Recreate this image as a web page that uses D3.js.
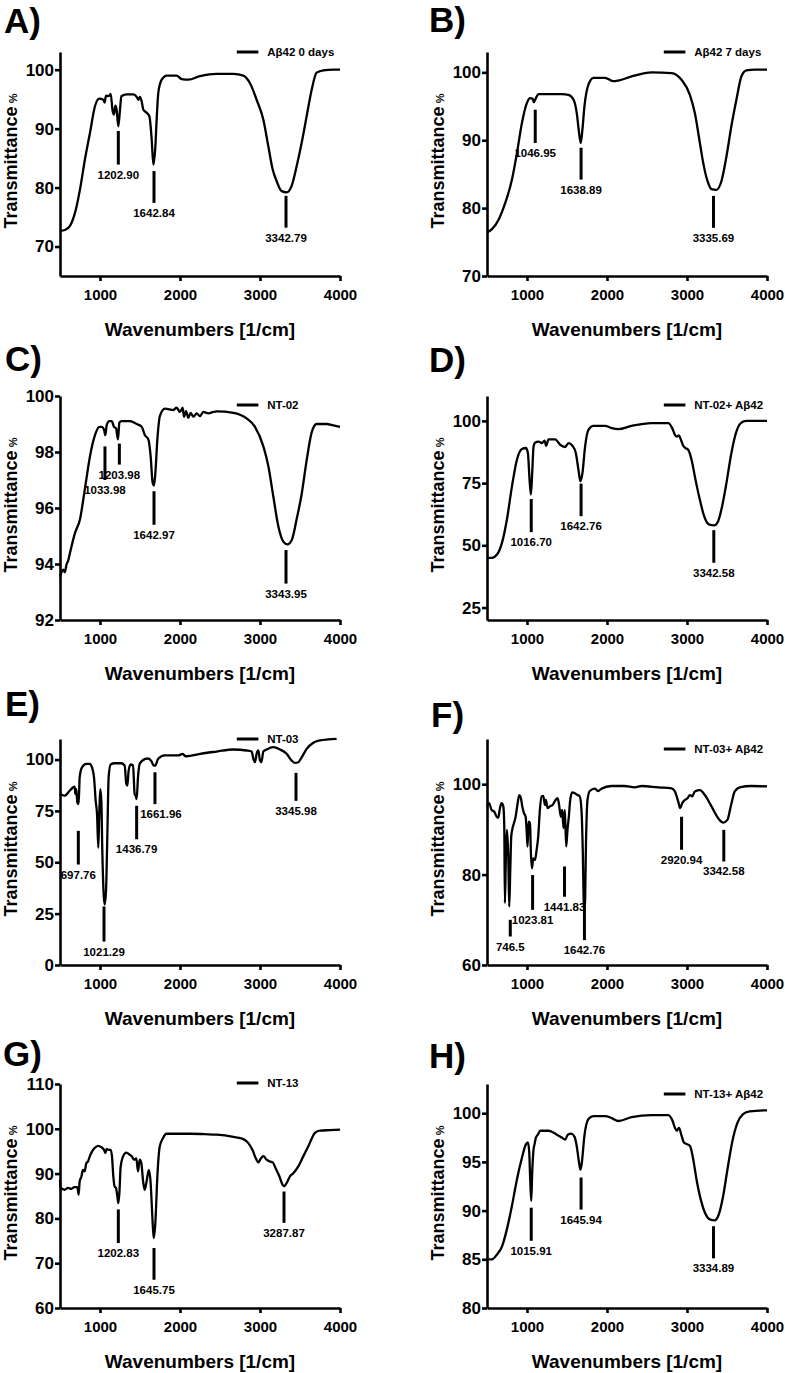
<!DOCTYPE html>
<html><head><meta charset="utf-8">
<script src="https://cdn.jsdelivr.net/npm/d3@7"></script>
<style>
body{margin:0;background:#fff}
svg{display:block}
text{font-family:"Liberation Sans",Arial,Helvetica,sans-serif;font-weight:bold;fill:#000}
</style>
</head><body>
<svg id="c" width="785" height="1373"></svg>
<script>
// ---------------- DATA ----------------
const panelLetters = ["A)","B)","C)","D)","E)","F)","G)","H)"];
const legendLabels = ["Aβ42 0 days","Aβ42 7 days","NT-02","NT-02+ Aβ42","NT-03","NT-03+ Aβ42","NT-13","NT-13+ Aβ42"];
const xDomain = [500, 4000];
const xTicks = [1000, 2000, 3000, 4000];
const yDomains = [[65,103],[70,103],[92,100],[20,110],[0,110],[60,110],[60,110],[80,103]];
const yTicks = [[70,80,90,100],[70,80,90,100],[92,94,96,98,100],[25,50,75,100],[0,25,50,75,100],[60,80,100],[60,70,80,90,100,110],[80,85,90,95,100]];
const xLabel = "Wavenumbers [1/cm]";
const yLabel = "Transmittance";

// spectra: [wavenumber, transmittance %]
const specA = [[500,72.65],[562,72.8],[625,73.5],[687,75.7],[750,79.7],[812,84.8],[875,89.3],[937,93.8],[992,95.1],[1042,94.9],[1058,94.4],[1075,95.6],[1108,95.5],[1133,95.9],[1158,93.0],[1175,92.4],[1192,93.9],[1208,93.2],[1229,90.4],[1250,93.2],[1267,95.5],[1333,95.8],[1417,95.8],[1458,95.4],[1479,94.9],[1500,95.4],[1521,94.6],[1542,93.2],[1583,92.7],[1617,92.1],[1646,88.2],[1667,83.9],[1692,87.0],[1708,91.5],[1729,96.1],[1771,98.3],[1833,99.0],[1958,99.0],[2021,98.4],[2104,98.3],[2250,98.9],[2458,99.3],[2667,99.3],[2792,99.0],[2875,97.7],[2958,94.9],[3042,91.5],[3104,87.0],[3158,83.1],[3208,81.1],[3271,79.4],[3333,79.2],[3396,80.3],[3458,83.6],[3521,87.6],[3583,92.1],[3646,96.6],[3708,99.5],[3792,99.9],[3917,100],[4000,100]];
const specB = [[500,76.4],[562,76.9],[645,78.3],[729,80.8],[812,84.2],[874,88.1],[936,92.5],[999,95.5],[1040,96.2],[1069,96.1],[1086,95.6],[1111,96.2],[1144,96.8],[1269,96.8],[1435,96.8],[1518,96.7],[1581,96.0],[1622,94.0],[1651,91.1],[1672,89.6],[1693,91.6],[1718,95.0],[1768,98.2],[1830,99.2],[1976,99.2],[2080,98.7],[2142,98.8],[2308,99.4],[2558,100],[2807,99.9],[2932,98.9],[3036,96.7],[3098,94.0],[3161,89.6],[3202,86.7],[3256,84.0],[3306,82.8],[3368,82.7],[3431,84.0],[3493,87.6],[3555,92.1],[3618,96.0],[3680,99.4],[3742,100.3],[3846,100.4],[4000,100.4]];
const specC = [[500,93.55],[542,93.8],[560,93.7],[583,94.0],[600,94.1],[625,94.4],[687,95.1],[750,95.6],[812,96.7],[875,97.85],[937,98.6],[992,98.9],[1021,98.9],[1050,98.8],[1067,98.6],[1083,98.95],[1117,99.1],[1146,99.1],[1175,98.9],[1200,98.85],[1225,98.45],[1242,99.05],[1271,99.1],[1375,99.1],[1458,99.0],[1521,98.9],[1562,98.6],[1604,98.45],[1633,97.85],[1658,96.9],[1675,96.8],[1692,97.25],[1717,98.45],[1750,99.3],[1812,99.55],[1917,99.5],[1958,99.58],[2000,99.43],[2033,99.58],[2050,99.26],[2075,99.46],[2104,99.22],[2133,99.4],[2167,99.26],[2208,99.38],[2250,99.28],[2292,99.43],[2354,99.38],[2417,99.43],[2458,99.45],[2667,99.4],[2833,99.2],[2937,98.9],[3042,98.2],[3104,97.5],[3167,96.4],[3229,95.35],[3292,94.8],[3342,94.7],[3396,94.85],[3458,95.6],[3521,96.5],[3583,97.7],[3646,98.7],[3708,99.0],[3833,99.0],[3917,98.95],[4000,98.9]];
const specD = [[500,45.0],[562,45.0],[625,46.3],[687,51.0],[749,60.4],[812,73.7],[874,84.4],[936,88.7],[986,89.1],[1011,87.1],[1032,76.4],[1049,70.4],[1065,79.0],[1082,89.7],[1103,91.3],[1144,91.7],[1186,91.1],[1219,92.1],[1240,90.0],[1269,92.6],[1352,92.6],[1414,90.4],[1477,89.5],[1518,91.1],[1568,90.0],[1610,87.1],[1643,80.4],[1668,75.7],[1693,79.0],[1726,89.7],[1768,96.4],[1830,98.0],[1976,98.0],[2059,97.1],[2142,96.7],[2308,98.0],[2558,99.1],[2766,99.1],[2815,97.1],[2849,94.4],[2874,93.7],[2900,94.2],[2924,92.4],[2953,90.0],[2982,89.1],[3015,88.4],[3057,84.4],[3106,76.4],[3160,68.4],[3214,61.7],[3273,58.4],[3339,58.0],[3389,59.7],[3439,65.7],[3493,75.0],[3547,85.7],[3605,94.4],[3672,99.1],[3742,100],[4000,100]];
const specE = [[500,83.2],[558,82.4],[621,84.8],[662,86.4],[683,86.8],[692,83.2],[704,85.6],[717,79.1],[733,78.3],[746,91.4],[775,96.2],[829,97.9],[871,97.9],[900,96.2],[925,91.4],[946,79.9],[963,73.4],[979,57.1],[992,75.0],[1004,85.6],[1017,79.9],[1029,55.5],[1046,34.3],[1058,29.4],[1075,35.9],[1092,63.7],[1108,91.4],[1133,97.6],[1183,98.2],[1267,98.2],[1308,97.1],[1329,88.1],[1342,87.3],[1358,94.6],[1383,97.6],[1413,97.1],[1433,83.2],[1446,82.4],[1458,80.8],[1475,91.4],[1496,97.9],[1567,100.3],[1600,100.5],[1642,99.2],[1671,97.1],[1692,97.1],[1725,100.3],[1808,102.0],[1975,102.0],[2038,102.8],[2060,101.8],[2083,101.6],[2250,102.8],[2458,103.9],[2667,104.9],[2833,104.4],[2896,103.9],[2917,100.3],[2937,98.7],[2958,102.8],[2979,104.4],[3000,99.5],[3017,98.7],[3042,103.9],[3083,104.9],[3167,106.0],[3250,104.9],[3333,102.8],[3396,99.5],[3437,98.4],[3479,98.7],[3521,101.1],[3583,105.2],[3667,108.2],[3750,109.3],[3854,109.8],[3958,110.1]];
const specF = [[500,95.1],[525,95.8],[558,94.3],[591,93.9],[621,92.8],[641,92.6],[662,94.7],[683,95.8],[704,95.1],[716,90.6],[724,73.7],[737,84.7],[749,89.9],[766,84.0],[778,72.9],[791,81.0],[803,88.4],[820,90.3],[837,91.4],[858,92.8],[883,95.8],[903,97.6],[924,96.9],[941,95.1],[962,93.6],[983,92.8],[995,89.9],[1007,86.2],[1020,91.7],[1037,91.4],[1049,84.7],[1062,81.4],[1078,83.6],[1099,83.2],[1120,85.4],[1140,88.4],[1161,94.3],[1182,97.3],[1203,97.4],[1224,95.4],[1236,96.5],[1257,94.7],[1286,95.1],[1319,95.4],[1357,96.5],[1382,96.9],[1398,95.8],[1423,92.8],[1440,94.3],[1456,90.3],[1473,94.3],[1490,86.2],[1506,89.9],[1523,92.8],[1540,96.5],[1565,98.2],[1598,98.0],[1631,97.6],[1660,97.3],[1681,94.3],[1698,84.7],[1710,73.7],[1722,72.2],[1739,88.4],[1756,96.5],[1785,98.5],[1847,99.0],[1889,98.5],[1930,99.0],[2055,99.6],[2221,99.6],[2346,99.3],[2433,99.6],[2641,99.3],[2807,99.1],[2849,98.4],[2890,96.2],[2915,94.7],[2940,95.8],[2973,96.5],[3007,96.9],[3036,97.6],[3065,97.3],[3098,98.4],[3161,98.7],[3223,97.6],[3306,95.1],[3389,92.5],[3452,91.5],[3505,92.1],[3547,95.1],[3597,98.4],[3659,99.3],[3805,99.6],[4000,99.5]];
const specG = [[500,88.6],[508,86.8],[558,86.4],[600,86.8],[642,86.6],[683,87.0],[717,87.0],[733,85.3],[746,88.3],[767,89.3],[787,90.8],[808,90.5],[829,92.3],[850,92.7],[871,93.8],[900,94.9],[933,95.7],[975,96.2],[1017,95.9],[1050,95.3],[1067,94.6],[1083,95.5],[1108,95.3],[1133,95.3],[1150,93.8],[1167,89.3],[1183,87.1],[1200,86.8],[1217,84.9],[1229,83.4],[1242,85.6],[1258,91.5],[1287,93.8],[1329,94.7],[1371,94.2],[1400,93.8],[1425,93.1],[1454,93.4],[1475,90.5],[1496,93.1],[1517,92.3],[1537,88.6],[1558,86.4],[1579,87.9],[1600,90.1],[1612,90.8],[1633,87.9],[1654,80.5],[1671,75.6],[1692,79.0],[1717,89.4],[1746,96.0],[1787,97.9],[1829,98.9],[1975,98.9],[2142,98.9],[2308,98.8],[2458,98.7],[2667,98.2],[2792,97.7],[2854,96.8],[2908,95.2],[2950,93.3],[2979,92.5],[3008,93.3],[3042,93.9],[3083,93.1],[3125,92.7],[3158,92.5],[3200,91.0],[3242,89.4],[3283,87.5],[3304,87.2],[3333,87.9],[3375,89.4],[3417,90.1],[3479,91.6],[3542,93.9],[3604,96.1],[3687,99.1],[3750,99.6],[3875,99.7],[4000,99.8]];
const specH = [[500,85.0],[562,85.0],[625,85.5],[687,86.3],[749,88.1],[812,90.5],[874,93.2],[936,95.4],[986,96.8],[1011,97.0],[1028,96.0],[1040,93.2],[1053,91.0],[1065,93.9],[1082,96.3],[1094,96.8],[1111,97.5],[1136,97.8],[1165,98.2],[1269,98.2],[1373,97.8],[1435,97.5],[1477,97.3],[1510,97.8],[1552,97.9],[1593,97.6],[1622,96.6],[1651,94.9],[1668,94.2],[1685,94.9],[1718,97.7],[1768,99.4],[1830,99.7],[1976,99.7],[2059,99.5],[2142,99.2],[2308,99.6],[2558,99.8],[2766,99.8],[2820,99.2],[2849,98.5],[2874,98.2],[2900,98.5],[2932,97.7],[2961,97.0],[3007,96.8],[3040,96.6],[3077,95.3],[3119,93.2],[3173,91.1],[3223,89.8],[3285,89.1],[3347,89.0],[3397,89.6],[3452,91.5],[3505,94.2],[3564,97.0],[3630,99.0],[3701,99.9],[3784,100.2],[4000,100.3]];

// peak annotations: [wavenumber, marker top %, marker bottom %, label]
const annoA = [[1229,89.6,83.9,"1202.90"],[1675,82.8,77.4,"1642.84"],[3325,78.6,73.2,"3342.79"]];
const annoB = [[1103,94.5,89.6,"1046.95"],[1676,88.9,84.2,"1638.89"],[3331,81.8,77.1,"3335.69"]];
const annoC = [[1062,98.2,97.0,"1033.98"],[1242,98.3,97.55,"1203.98"],[1675,96.6,95.4,"1642.97"],[3325,94.5,93.3,"3343.95"]];
const annoD = [[1053,68.6,55.3,"1016.70"],[1676,74.8,61.7,"1642.76"],[3335,56.1,43.0,"3342.58"]];
const annoE = [[729,65.3,48.9,"697.76"],[1050,28.5,11.4,"1021.29"],[1458,77.5,61.2,"1436.79"],[1687,93.8,78.3,"1661.96"],[3450,93.5,79.9,"3345.98"]];
const annoF = [[791,70.0,66.3,"746.5"],[1070,79.9,72.2,"1023.81"],[1469,81.8,75.1,"1441.83"],[1718,72.9,65.5,"1642.76"],[2932,92.8,85.5,"2920.94"],[3460,89.9,82.9,"3342.58"]];
const annoG = [[1229,82.0,74.5,"1202.83"],[1675,73.4,66.3,"1645.75"],[3300,86.0,79.0,"3287.87"]];
const annoH = [[1053,90.3,86.9,"1015.91"],[1676,93.4,90.1,"1645.94"],[3331,88.4,85.1,"3334.89"]];

const spectra = [specA,specB,specC,specD,specE,specF,specG,specH];
const annos = [annoA,annoB,annoC,annoD,annoE,annoF,annoG,annoH];

// ---------------- LAYOUT ----------------
const colX = [60, 487];
const plotW = 280;
const rowTop = [52, 396, 739, 1084];
const rowBottom = [276, 620, 965, 1308];
const letterPos = [[4,33],[429,32],[5,371],[429,372],[5,716],[431,727],[3,1066],[429,1068]];
const legendDy = [0,0,9,9,0,10,-1,10];
const labelNudge = [[],[],[],[],[0,0,0,6,0],[],[],[]];
const FONT = '"Liberation Sans",Arial,Helvetica,sans-serif';

const svg = d3.select("#c");

spectra.forEach((spec, i) => {
  const col = i % 2, row = Math.floor(i / 2);
  const x0 = colX[col], top = rowTop[row], bot = rowBottom[row];
  const x = d3.scaleLinear().domain(xDomain).range([x0, x0 + plotW]);
  const y = d3.scaleLinear().domain(yDomains[i]).range([bot, top]);
  const g = svg.append("g");

  // panel letter
  g.append("text").attr("x", letterPos[i][0]).attr("y", letterPos[i][1])
    .attr("font-size", 35).text(panelLetters[i]);

  // spectrum
  g.append("path").datum(spec)
    .attr("fill", "none").attr("stroke", "#000").attr("stroke-width", 2.3)
    .attr("stroke-linejoin", "round")
    .attr("d", d3.line().x(d => x(d[0])).y(d => y(d[1])).curve(d3.curveMonotoneX));

  // annotations
  annos[i].forEach((a, k) => {
    g.append("line").attr("x1", x(a[0])).attr("x2", x(a[0]))
      .attr("y1", y(a[1])).attr("y2", y(a[2]))
      .attr("stroke", "#000").attr("stroke-width", 3);
    const dx = labelNudge[i][k] || 0;
    g.append("text").attr("x", x(a[0]) + dx).attr("y", y(a[2]) + 14)
      .attr("text-anchor", "middle").attr("font-size", 11.5).text(a[3]);
  });

  // axes
  const ax = g.append("g").attr("transform", `translate(0,${bot})`)
    .call(d3.axisBottom(x).tickValues(xTicks).tickSize(5).tickPadding(8)
      .tickSizeOuter(0).tickFormat(d3.format("d")));
  ax.attr("font-size", 15).attr("font-family", FONT).attr("font-weight", "bold");
  ax.select(".domain").attr("stroke-width", 2.6);
  ax.selectAll(".tick line").attr("stroke-width", 2.6);

  const ay = g.append("g").attr("transform", `translate(${x0},0)`)
    .call(d3.axisLeft(y).tickValues(yTicks[i]).tickSize(5).tickPadding(1)
      .tickSizeOuter(0).tickFormat(d3.format("d")));
  ay.attr("font-size", 17).attr("font-family", FONT).attr("font-weight", "bold");
  ay.select(".domain").attr("stroke-width", 2.6);
  ay.selectAll(".tick line").attr("stroke-width", 2.6);

  // axis titles
  g.append("text").attr("x", x0 + plotW / 2).attr("y", bot + 60)
    .attr("text-anchor", "middle").attr("font-size", 19).text(xLabel);
  const yt = g.append("text")
    .attr("transform", `translate(${x0 - 43},${(top + bot) / 2 - 3}) rotate(-90)`)
    .attr("text-anchor", "middle");
  yt.append("tspan").attr("font-size", 18).text(yLabel);
  yt.append("tspan").attr("font-size", 11).text(" %");

  // legend
  const ly = top + legendDy[i];
  g.append("line").attr("x1", x(2710)).attr("x2", x(2980))
    .attr("y1", ly).attr("y2", ly).attr("stroke", "#000").attr("stroke-width", 3);
  g.append("text").attr("x", x(3090)).attr("y", ly).attr("dy", "0.35em")
    .attr("font-size", 11.5).text(legendLabels[i]);
});
</script>
</body></html>
